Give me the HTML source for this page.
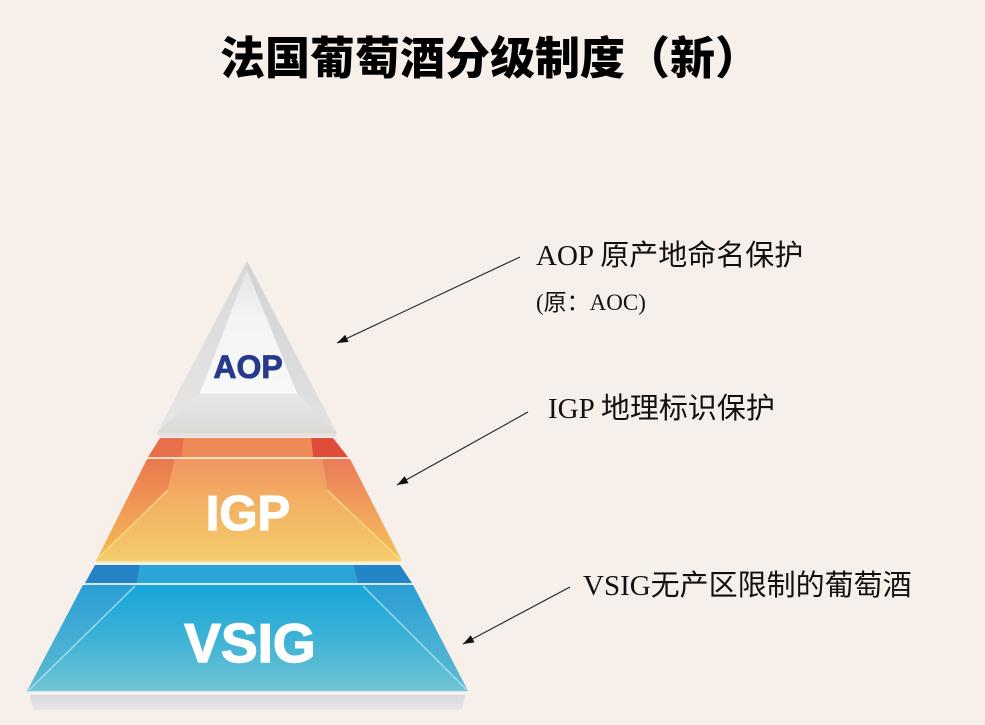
<!DOCTYPE html>
<html>
<head>
<meta charset="utf-8">
<style>
  html, body { margin: 0; padding: 0; background: #f7f0ea; }
  svg { display: block; }
</style>
</head>
<body>
<svg xmlns="http://www.w3.org/2000/svg" width="985" height="725" viewBox="0 0 985 725">
  <defs>
    <linearGradient id="aopInner" x1="0" y1="0" x2="0" y2="1">
      <stop offset="0" stop-color="#e4e4e4"/>
      <stop offset="0.4" stop-color="#f4f4f4"/>
      <stop offset="1" stop-color="#f8f8f8"/>
    </linearGradient>
    <linearGradient id="aopLeft" x1="0" y1="0" x2="0" y2="1">
      <stop offset="0" stop-color="#d8d8d8"/>
      <stop offset="1" stop-color="#e6e6e6"/>
    </linearGradient>
    <linearGradient id="aopRight" x1="0" y1="0" x2="0" y2="1">
      <stop offset="0" stop-color="#d2d2d4"/>
      <stop offset="1" stop-color="#e2e2e2"/>
    </linearGradient>
    <linearGradient id="aopBottom" x1="0" y1="0" x2="0" y2="1">
      <stop offset="0" stop-color="#e8e8e8"/>
      <stop offset="1" stop-color="#dcd8d8"/>
    </linearGradient>
    <linearGradient id="igpFront" x1="0" y1="0" x2="0" y2="1">
      <stop offset="0" stop-color="#f3aa62"/>
      <stop offset="0.5" stop-color="#f3bb66"/>
      <stop offset="1" stop-color="#f4cc6c"/>
    </linearGradient>
    <linearGradient id="igpUpper" x1="0" y1="0" x2="0" y2="1">
      <stop offset="0" stop-color="#f09660"/>
      <stop offset="1" stop-color="#f3a864"/>
    </linearGradient>
    <linearGradient id="igpLeft" x1="0" y1="0" x2="0" y2="1">
      <stop offset="0" stop-color="#ea784e"/>
      <stop offset="0.5" stop-color="#f09a56"/>
      <stop offset="1" stop-color="#f2c056"/>
    </linearGradient>
    <linearGradient id="igpRight" x1="0" y1="0" x2="0" y2="1">
      <stop offset="0" stop-color="#ec7a58"/>
      <stop offset="0.5" stop-color="#f0a05c"/>
      <stop offset="1" stop-color="#f3c458"/>
    </linearGradient>
    <linearGradient id="vsFront" x1="0" y1="0" x2="0" y2="1">
      <stop offset="0" stop-color="#16a6d8"/>
      <stop offset="0.5" stop-color="#3cb2d6"/>
      <stop offset="1" stop-color="#72c4d4"/>
    </linearGradient>
    <linearGradient id="vsSide" x1="0" y1="0" x2="0" y2="1">
      <stop offset="0" stop-color="#2a9ed4"/>
      <stop offset="1" stop-color="#60bcd4"/>
    </linearGradient>
    <linearGradient id="refl" x1="0" y1="0" x2="0" y2="1">
      <stop offset="0" stop-color="#d8d6e0"/>
      <stop offset="1" stop-color="#e8e5e8"/>
    </linearGradient>
    <marker id="ah" markerUnits="userSpaceOnUse" markerWidth="12" markerHeight="9" refX="11" refY="4" orient="auto">
      <path d="M0,0 L11,4 L0,8 z" fill="#111"/>
    </marker>
  </defs>

  <rect x="0" y="0" width="985" height="725" fill="#f7f0ea"/>

  <!-- Title -->
  <text x="220" y="74" font-family="'Noto Sans CJK SC', 'WenQuanYi Zen Hei', sans-serif" font-size="45" font-weight="900" fill="#000">法国葡萄酒分级制度（新）</text>

  <!-- AOP -->
  <polygon points="247,261 157,433 337,433" fill="#dedede"/>
  <polygon points="247,261 157,433 200,393 247,270" fill="url(#aopLeft)"/>
  <polygon points="247,261 247,270 297,393 337,433" fill="url(#aopRight)"/>
  <polygon points="247,270 200,393 297,393" fill="url(#aopInner)"/>
  <polygon points="200,393 297,393 337,433 157,433" fill="url(#aopBottom)"/>
  <line x1="200" y1="393" x2="297" y2="393" stroke="#fafafa" stroke-width="1.2"/>
  <polygon points="157,433 337,433 335,437 160,437" fill="#e6e2e0"/>
  <text x="248" y="378" text-anchor="middle" font-family="'Liberation Sans', Arial, sans-serif" font-size="32" font-weight="bold" fill="#263a8a" stroke="#263a8a" stroke-width="0.8">AOP</text>

  <!-- IGP top band -->
  <polygon points="160,438 184,438 182,457 148,457" fill="#e8704a"/>
  <polygon points="184,438 311,438 313,457 182,457" fill="#ee8a58"/>
  <polygon points="311,438 333,438 348,457 313,457" fill="#df4d38"/>
  <line x1="148" y1="457.8" x2="348" y2="457.8" stroke="#f8d0b0" stroke-width="1.2"/>

  <!-- IGP main -->
  <polygon points="147,459 175,459 168,490 96,561" fill="url(#igpLeft)"/>
  <polygon points="322,459 350,459 402,561 327,490" fill="url(#igpRight)"/>
  <polygon points="175,459 322,459 327,490 168,490" fill="url(#igpUpper)"/>
  <polygon points="168,490 327,490 401,561 96,561" fill="url(#igpFront)"/>
  <line x1="168" y1="490" x2="96" y2="560" stroke="#f9dc86" stroke-width="1.3"/>
  <line x1="327" y1="490" x2="401" y2="560" stroke="#f9dc86" stroke-width="1.3"/>
  <line x1="96" y1="561.5" x2="401" y2="561.5" stroke="#f8e09a" stroke-width="1.5"/>
  <text x="248" y="530" text-anchor="middle" font-family="'Liberation Sans', Arial, sans-serif" font-size="49" font-weight="bold" fill="#ffffff" stroke="#ffffff" stroke-width="1.2">IGP</text>

  <!-- VSIG top band -->
  <polygon points="95,565 140,565 137,583 85,583" fill="#2582c4"/>
  <polygon points="140,565 353,565 358,583 137,583" fill="#2ba4d8"/>
  <polygon points="353,565 400,565 412,583 358,583" fill="#2384c6"/>
  <line x1="85" y1="584" x2="412" y2="584" stroke="#bfe6f2" stroke-width="1.3"/>

  <!-- VSIG main -->
  <polygon points="83,585 413,585 468,691 27,691" fill="url(#vsFront)"/>
  <polygon points="83,585 135,585 28,691" fill="url(#vsSide)"/>
  <polygon points="363,585 413,585 468,691" fill="url(#vsSide)"/>
  <line x1="135" y1="586" x2="29" y2="690" stroke="#a8e2f0" stroke-width="1.3"/>
  <line x1="363" y1="586" x2="467" y2="690" stroke="#a8e2f0" stroke-width="1.3"/>
  <line x1="27" y1="691.5" x2="468" y2="691.5" stroke="#c8ecf2" stroke-width="1.3"/>
  <text x="250" y="662" text-anchor="middle" font-family="'Liberation Sans', Arial, sans-serif" font-size="55" font-weight="bold" fill="#ffffff" stroke="#ffffff" stroke-width="1.4">VSIG</text>

  <!-- reflection -->
  <polygon points="30,695 465,695 462,710 33,710" fill="url(#refl)"/>

  <!-- Arrows -->
  <line x1="520" y1="257" x2="337" y2="343" stroke="#222" stroke-width="1.1" marker-end="url(#ah)"/>
  <line x1="528" y1="412" x2="397" y2="485" stroke="#222" stroke-width="1.1" marker-end="url(#ah)"/>
  <line x1="570" y1="587" x2="463" y2="644" stroke="#222" stroke-width="1.1" marker-end="url(#ah)"/>

  <!-- Labels -->
  <g font-family="'Liberation Serif', 'Noto Sans CJK SC', serif" fill="#111">
    <text x="536" y="265" font-size="29">AOP 原产地命名保护</text>
    <text x="536" y="310" font-size="23">(原：AOC)</text>
    <text x="548" y="418" font-size="29">IGP 地理标识保护</text>
    <text x="583" y="595" font-size="29">VSIG无产区限制的葡萄酒</text>
  </g>
</svg>
</body>
</html>
